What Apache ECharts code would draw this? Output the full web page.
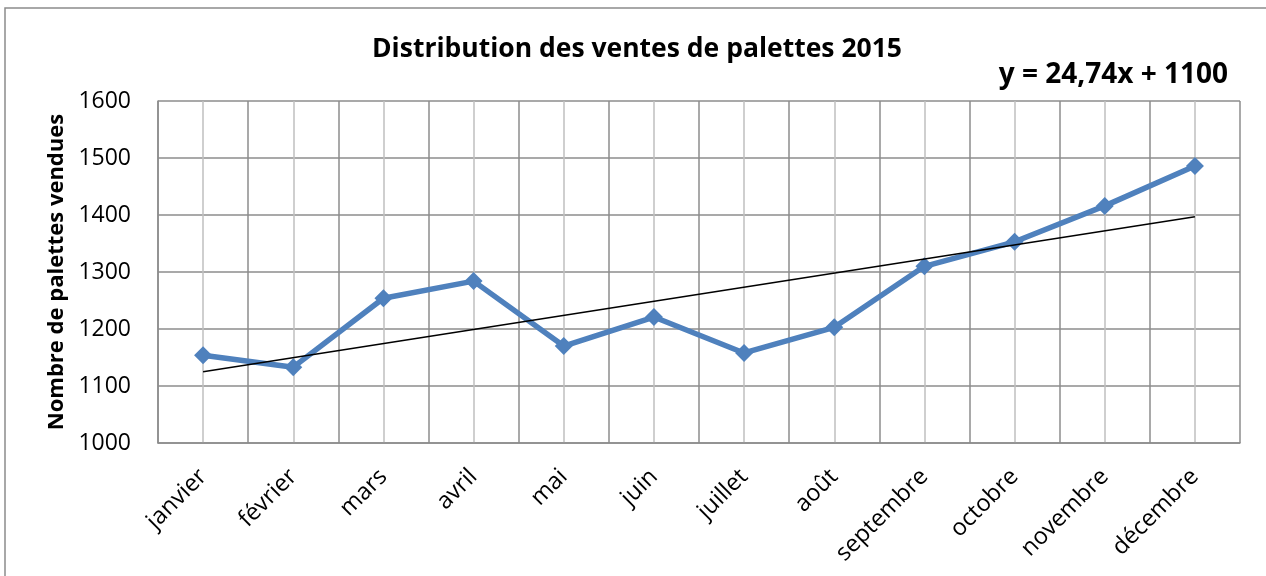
<!DOCTYPE html>
<html>
<head>
<meta charset="utf-8">
<script src="https://cdn.jsdelivr.net/npm/echarts@6/dist/echarts.min.js"></script>
<style>
  html, body { margin: 0; padding: 0; background: #fff; }
  #chart { width: 1266px; height: 576px; }
</style>
</head>
<body>
<div id="chart"></div>
<script>
const months = ["janvier", "février", "mars", "avril", "mai", "juin", "juillet", "août", "septembre", "octobre", "novembre", "décembre"];
const ventes = [1154, 1133, 1254, 1284, 1170, 1221, 1158, 1203, 1310, 1353, 1416, 1486];
// trendline, only the two ends are drawn
const tendance = [1125, null, null, null, null, null, null, null, null, null, null, 1397];
const yTicks = { min: 1000, max: 1600, interval: 100 };

const FONT = "'Open Sans', sans-serif";

const chart = echarts.init(document.getElementById("chart"));

const option = {
    backgroundColor: "#fff",
    animation: false,
    textStyle: { fontFamily: FONT },
    title: {
        text: "Distribution des ventes de palettes 2015",
        left: 632,
        top: 31,
        textAlign: "center",
        textStyle: { fontSize: 26.5, fontWeight: "bold", color: "#000", fontFamily: FONT }
    },
    graphic: [
        {
            type: "rect",
            shape: { x: 5, y: 8, width: 1400, height: 700 },
            style: { fill: "none", stroke: "#8c8c8c", lineWidth: 1.5 },
            silent: true
        },
        {
            type: "text",
            right: 38,
            top: 61,
            style: { text: "y = 24,74x + 1100", font: "bold 28px " + FONT, fill: "#000" }
        }
    ],
    grid: { left: 158, right: 26, top: 101, bottom: 133 },
    xAxis: [
        {
            type: "category",
            data: months,
            boundaryGap: true,
            axisLine: { lineStyle: { color: "#8c8c8c", width: 1.5 } },
            axisTick: { show: false },
            axisLabel: { rotate: 45, fontSize: 23.5, color: "#000", margin: 30, interval: 0, fontFamily: FONT },
            splitLine: { show: true, lineStyle: { color: "#8c8c8c", width: 1.5 } }
        },
        {
            type: "value",
            min: 0,
            max: 12,
            interval: 1,
            show: true,
            axisLine: { show: false },
            axisTick: { show: false },
            axisLabel: { show: false },
            splitLine: { show: false },
            minorTick: { show: false, splitNumber: 2 },
            minorSplitLine: { show: true, lineStyle: { color: "#c0c0c0", width: 1.5 } }
        }
    ],
    yAxis: {
        type: "value",
        min: yTicks.min,
        max: yTicks.max,
        interval: yTicks.interval,
        name: "Nombre de palettes vendues",
        nameLocation: "middle",
        nameGap: 90,
        nameRotate: 90,
        nameTextStyle: { fontSize: 22, fontWeight: "bold", color: "#000", fontFamily: FONT },
        axisLine: { show: true, lineStyle: { color: "#8c8c8c", width: 1.5 } },
        axisTick: { show: false },
        axisLabel: { fontSize: 23, color: "#000", margin: 27, fontFamily: FONT, formatter: v => String(v) },
        splitLine: { show: true, lineStyle: { color: "#8c8c8c", width: 1.5 } }
    },
    series: [
        {
            name: "tendance",
            type: "line",
            data: tendance,
            connectNulls: true,
            symbol: "none",
            lineStyle: { color: "#000", width: 1.5 },
            z: 3
        },
        {
            name: "ventes",
            type: "line",
            data: ventes,
            symbol: "diamond",
            symbolSize: 18,
            itemStyle: { color: "#4f81bd" },
            lineStyle: { color: "#4f81bd", width: 5.5 },
            z: 2
        }
    ]
};

chart.setOption(option);
</script>
</body>
</html>
